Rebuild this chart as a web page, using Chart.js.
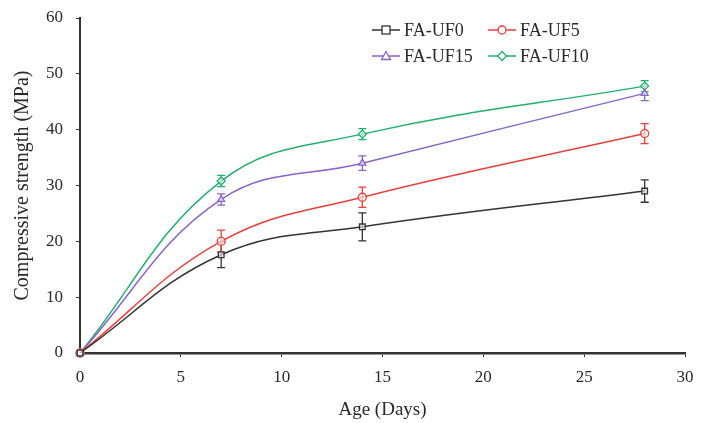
<!DOCTYPE html>
<html><head><meta charset="utf-8">
<script src="https://cdn.jsdelivr.net/npm/chart.js@4/dist/chart.umd.min.js"></script>
<style>
html,body{margin:0;padding:0;background:#fff;}
#wrap{position:relative;width:708px;height:423px;}
#legend{position:absolute;left:372px;top:19px;font-family:"Liberation Serif",serif;font-size:18px;color:#2a2a2a;}
.item{position:absolute;white-space:nowrap;display:flex;align-items:center;height:22px;}
.item svg{margin-right:4px;}
</style></head>
<body><div id="wrap"><canvas id="c" width="708" height="423"></canvas><div id="legend"></div></div>
<script>
const days = [0, 7, 14, 28];
const seriesNames = ['FA-UF0', 'FA-UF5', 'FA-UF15', 'FA-UF10'];
const uf0 = [0, 17.6, 22.6, 29.0];
const uf5 = [0, 20.0, 27.9, 39.3];
const uf15 = [0, 27.5, 34.0, 46.5];
const uf10 = [0, 30.8, 39.2, 47.8];
const uf0Err = [0, 2.3, 2.5, 2.0];
const uf5Err = [0, 2.0, 1.8, 1.8];
const uf15Err = [0, 1.0, 1.3, 1.3];
const uf10Err = [0, 1.0, 1.0, 1.0];
const xTicks = [0, 5, 10, 15, 20, 25, 30];
const yTicks = [0, 10, 20, 30, 40, 50, 60];

const colors = ['#333333', '#e8403c', '#8a63c8', '#22b06e'];
const styles = ['rect', 'circle', 'triangle', 'rectRot'];
const vals = [uf0, uf5, uf15, uf10];
const errs = [uf0Err, uf5Err, uf15Err, uf10Err];

const datasets = seriesNames.map((n, i) => ({
  label: n,
  data: days.map((d, j) => ({x: d, y: vals[i][j]})),
  errors: errs[i],
  borderColor: colors[i],
  backgroundColor: colors[i],
  borderWidth: 1.5,
  pointStyle: styles[i],
  pointRadius: 4,
  pointBorderWidth: 1.3,
  pointBackgroundColor: 'rgba(255,255,255,0.6)',
  pointBorderColor: colors[i],
  tension: 0.4,
  clip: false
}));

const errorBars = {
  id: 'errorBars',
  beforeDatasetsDraw(chart) {
    const ctx = chart.ctx, xs = chart.scales.x, ys = chart.scales.y;
    chart.data.datasets.forEach(ds => {
      ctx.save();
      ctx.strokeStyle = ds.borderColor; ctx.lineWidth = 1.3;
      ds.data.forEach((p, j) => {
        const e = ds.errors[j]; if (!e) return;
        const px = xs.getPixelForValue(p.x);
        const y1 = ys.getPixelForValue(p.y - e), y2 = ys.getPixelForValue(p.y + e);
        ctx.beginPath();
        ctx.moveTo(px, y1); ctx.lineTo(px, y2);
        ctx.moveTo(px - 4, y1); ctx.lineTo(px + 4, y1);
        ctx.moveTo(px - 4, y2); ctx.lineTo(px + 4, y2);
        ctx.stroke();
      });
      ctx.restore();
    });
  }
};

const fam = '"Liberation Serif", serif';
const tickFont = {family: fam, size: 17};
new Chart(document.getElementById('c'), {
  type: 'line',
  data: {datasets},
  plugins: [errorBars],
  options: {
    responsive: false, animation: false,
    layout: {padding: {top: 18, right: 23, left: 0, bottom: 0}},
    plugins: {legend: {display: false}, tooltip: {enabled: false}},
    scales: {
      x: {
        type: 'linear', min: 0, max: 30,
        afterBuildTicks: s => { s.ticks = xTicks.map(v => ({value: v})); },
        afterFit: s => { s.height = 70; s.paddingLeft = 0; s.paddingRight = 0; },
        grid: {drawOnChartArea: false, drawTicks: true, tickLength: 4, color: '#333'},
        border: {display: true, color: '#333', width: 2.5},
        ticks: {font: tickFont, color: '#2a2a2a', padding: 10, maxRotation: 0},
        title: {display: true, text: 'Age (Days)', font: {family: fam, size: 19}, color: '#2a2a2a', padding: {top: 2, bottom: 2}}
      },
      y: {
        min: 0, max: 60,
        afterBuildTicks: s => { s.ticks = yTicks.map(v => ({value: v})); },
        afterFit: s => { s.width = 80; s.paddingTop = 0; s.paddingBottom = 0; },
        grid: {drawOnChartArea: false, drawTicks: true, tickLength: 4, color: '#333'},
        border: {display: true, color: '#333', width: 2},
        ticks: {font: tickFont, color: '#2a2a2a', padding: 13},
        title: {display: true, text: 'Compressive strength (MPa)', font: {family: fam, size: 20}, color: '#2a2a2a', padding: {top: 11, bottom: 11}}
      }
    }
  }
});

// legend (HTML)
const legend = document.getElementById('legend');
const pos = [[0, 0], [116, 0], [0, 26], [116, 26]];
function symbol(style, c) {
  let m = '';
  if (style === 'rect') m = `<rect x="10" y="6" width="8" height="8" fill="white" stroke="${c}" stroke-width="1.3"/>`;
  if (style === 'circle') m = `<circle cx="14" cy="10" r="4" fill="white" stroke="${c}" stroke-width="1.3"/>`;
  if (style === 'triangle') m = `<polygon points="14,5.5 18.5,13.5 9.5,13.5" fill="white" stroke="${c}" stroke-width="1.3"/>`;
  if (style === 'rectRot') m = `<polygon points="14,5.5 18.5,10 14,14.5 9.5,10" fill="white" stroke="${c}" stroke-width="1.3"/>`;
  return `<svg width="28" height="20"><line x1="0" y1="10" x2="28" y2="10" stroke="${c}" stroke-width="1.5"/>${m}</svg>`;
}
seriesNames.forEach((n, i) => {
  const d = document.createElement('div');
  d.className = 'item';
  d.style.left = pos[i][0] + 'px'; d.style.top = pos[i][1] + 'px';
  d.innerHTML = symbol(styles[i], colors[i]) + '<span>' + n + '</span>';
  legend.appendChild(d);
});
</script></body></html>
